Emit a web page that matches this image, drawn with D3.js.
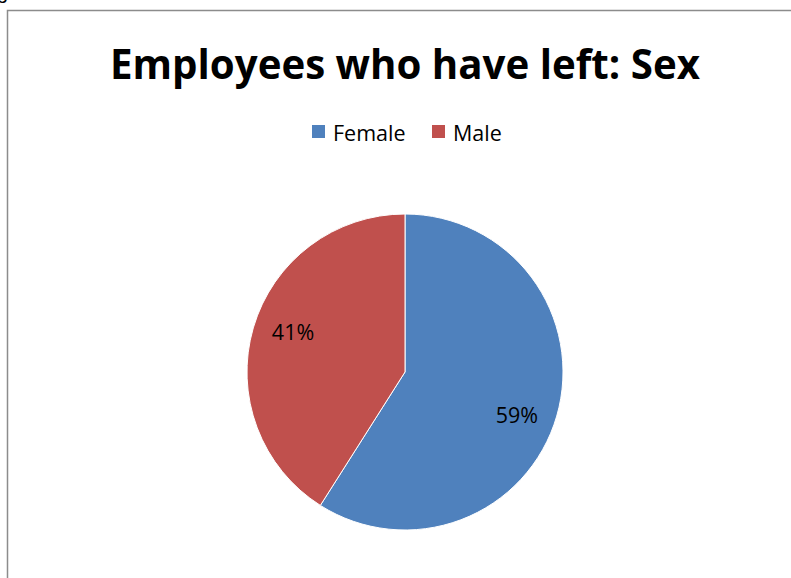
<!DOCTYPE html>
<html>
<head>
<meta charset="utf-8">
<script src="https://cdn.jsdelivr.net/npm/d3@7"></script>
<style>
  html, body { margin: 0; padding: 0; background: #fff; overflow: hidden; }
  svg { display: block; }
</style>
</head>
<body>
<svg id="chart"></svg>
<script>
const width = 791, height = 578;

const categories = ["Female", "Male"];
const shares = [59, 41];
const colors = ["#4F81BD", "#C0504D"];
const title = "Employees who have left: Sex";

const svg = d3.select("#chart")
    .attr("width", width)
    .attr("height", height);

// stray glyph cut off at the top-left corner
svg.append("text")
    .attr("x", -3)
    .attr("y", -1)
    .style("font-family", "Liberation Sans, Arial, sans-serif")
    .style("font-size", "20px")
    .text("g");

// chart area border (runs off the right and bottom edges)
svg.append("rect")
    .attr("x", 7.5)
    .attr("y", 10.5)
    .attr("width", width + 20)
    .attr("height", height + 20)
    .attr("fill", "none")
    .attr("stroke", "#8c8c8c")
    .attr("stroke-width", 1.5);

const font = "'Open Sans', 'Noto Sans', sans-serif";

const t = svg.append("text")
    .attr("x", 405)
    .attr("y", 79)
    .attr("text-anchor", "middle")
    .style("font-family", font)
    .style("font-weight", "bold")
    .style("font-size", "36px")
    .style("fill", "#000")
    .text(title);
// fit the title to the width it takes in the reference
const tw = t.node().getComputedTextLength();
t.style("font-size", (36 * 590 / tw) + "px");

// legend
const legendX = [312, 432];
const legend = svg.selectAll(".legend")
    .data(categories)
    .enter().append("g")
    .attr("class", "legend")
    .attr("transform", (d, i) => `translate(${legendX[i]},125)`);

legend.append("rect")
    .attr("width", 13)
    .attr("height", 13)
    .style("fill", (d, i) => colors[i]);

legend.append("text")
    .attr("x", 21)
    .attr("y", 16)
    .style("font-family", font)
    .style("font-size", "21.5px")
    .style("fill", "#000")
    .text(d => d);

// pie
const cx = 405, cy = 372, r = 158;
const pie = d3.pie().sort(null).value(d => d)(shares);
const arc = d3.arc().innerRadius(0).outerRadius(r);

const g = svg.append("g").attr("transform", `translate(${cx},${cy})`);

g.selectAll("path")
    .data(pie)
    .enter().append("path")
    .attr("d", arc)
    .style("fill", (d, i) => colors[i])
    .style("stroke", "#fff")
    .style("stroke-width", 1);

// labels sit a little clockwise of each slice's middle, as in the reference
const labelR = r * 0.755, labelShift = 0.07;
const total = d3.sum(shares);
g.selectAll(".lbl")
    .data(pie)
    .enter().append("text")
    .attr("class", "lbl")
    .attr("transform", d => {
        const a = (d.startAngle + d.endAngle) / 2 + labelShift;
        return `translate(${Math.sin(a) * labelR},${-Math.cos(a) * labelR})`;
    })
    .attr("text-anchor", "middle")
    .attr("dy", "0.45em")
    .style("font-family", font)
    .style("font-size", "21.5px")
    .style("fill", "#000")
    .text(d => Math.round(d.data / total * 100) + "%");
</script>
</body>
</html>
